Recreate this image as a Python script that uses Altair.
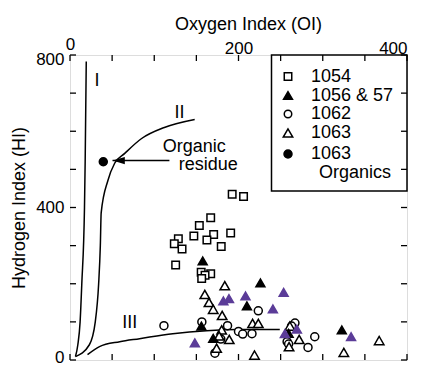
import altair as alt
import pandas as pd

FONT = "Liberation Sans"

# ---------------- data (OI, HI) ----------------
sq_oi = [192.5, 206, 167, 153.5, 147, 170.5, 162.5, 190.7, 128.6, 123.8, 133, 179.5, 125.4, 155.7, 167, 160.3, 156.3]
sq_hi = [435, 429, 373, 353, 325, 329, 315, 333, 318, 305, 291, 298, 249, 230, 226, 222, 214]

bt_oi = [157.5, 226, 210, 156, 170, 259.5, 322.6]
bt_hi = [260, 202, 142, 89, 57, 70, 79]

pt_oi = [253.6, 208.3, 188.7, 182, 240.8, 333.6, 269.3, 255, 148.2]
pt_hi = [177.6, 168, 161, 155, 134, 61, 81, 69, 45]

ot_oi = [183.7, 160, 165, 170, 180.6, 216.7, 223.5, 180, 189, 177, 174, 219, 261, 272, 260, 325, 367]
ot_hi = [195, 172, 151, 133, 117, 96, 96, 79, 54, 63, 31, 13, 89, 54, 35, 20, 51]

oc_oi = [111.5, 156.5, 187, 200, 205, 216, 223.5, 267, 290.5, 282.5, 257.7, 259.5, 172, 179, 263]
oc_hi = [90, 100, 90, 75, 68, 69, 129, 97, 61, 33, 48, 42, 18, 55, 89]

org_oi = [39.5]
org_hi = [520]

curve_I_oi = [6.5, 9.3, 12, 14, 17.2, 18, 19.3]
curve_I_hi = [9, 40, 100, 200, 400, 520, 783]
curve_II_oi = [6.5, 23, 30, 34, 36, 37, 45, 53, 65, 85, 112, 148]
curve_II_hi = [9, 40, 100, 200, 300, 386, 471, 516, 542, 581, 610, 631]
curve_III_oi = [20.8, 35, 59, 82.6, 122, 162, 201, 249]
curve_III_hi = [14, 35, 48, 56, 69, 77, 80, 80]

curve_labels = ["I", "II", "III"]
curve_label_oi = [32, 130, 71]
curve_label_hi = [731, 647, 98]

arrow_oi = [118, 50.5]
arrow_hi = [523, 523]
note_lines = ["Organic", "residue"]
note_oi = [110, 129]
note_hi = [559, 511]

legend_labels = ["1054", "1056 & 57", "1062", "1063", "1063"]
x_ticks = [0, 50, 100, 150, 200, 250, 300, 350, 400]
y_ticks = [0, 100, 200, 300, 400, 500, 600, 700, 800]

PURPLE = "#5b3c98"
W, H = 337, 305

# ---------------- scales / axes ----------------
xscale = alt.Scale(domain=[0, 400], nice=False, zero=False)
yscale = alt.Scale(domain=[0, 800], nice=False, zero=False)

xaxis = alt.Axis(
    orient="top", values=[0, 200, 400], title="Oxygen Index (OI)",
    labelFontSize=17, titleFontSize=18, labelFont=FONT, titleFont=FONT,
    titleFontWeight="normal", labelColor="black", titleColor="black",
    labelFlush=False,
    labelPadding={"condition": {"test": "datum.value == 0", "value": 2}, "value": -2},
    labelAlign={"condition": {"test": "datum.value == 400", "value": "right"}, "value": "center"},
    titlePadding=2, titleX=178, titleAlign="center",
    domain=False, ticks=False, grid=False,
)
yaxis = alt.Axis(
    values=[0, 400, 800], title="Hydrogen Index (HI)",
    labelFontSize=17, titleFontSize=18, labelFont=FONT, titleFont=FONT,
    titleFontWeight="normal", labelColor="black", titleColor="black",
    labelFlush=False, labelPadding=6,
    labelOffset={"condition": [{"test": "datum.value == 800", "value": 4},
                               {"test": "datum.value == 0", "value": -3}],
                 "value": 0},
    titlePadding=7, domain=False, ticks=False, grid=False,
)

def X(field="oi"):
    return alt.X(f"{field}:Q", scale=xscale, axis=xaxis)

def Y(field="hi"):
    return alt.Y(f"{field}:Q", scale=yscale, axis=yaxis)

# ---------------- curves ----------------
rows = []
for name, xs, ys in [("I", curve_I_oi, curve_I_hi), ("II", curve_II_oi, curve_II_hi),
                     ("III", curve_III_oi, curve_III_hi)]:
    for i, (a, b) in enumerate(zip(xs, ys)):
        rows.append({"curve": name, "i": i, "oi": a, "hi": b})
curves_df = pd.DataFrame(rows)

curves = alt.Chart(curves_df).mark_line(color="black", strokeWidth=1.5, interpolate="monotone").encode(
    x=X(), y=Y(), detail="curve:N", order="i:Q")

clabels = alt.Chart(pd.DataFrame({"t": curve_labels, "oi": curve_label_oi, "hi": curve_label_hi})).mark_text(
    font=FONT, fontSize=18, color="black").encode(x=X(), y=Y(), text="t:N")

arrow_line = alt.Chart(pd.DataFrame({"oi": arrow_oi, "hi": arrow_hi})).mark_line(
    color="black", strokeWidth=1.5).encode(x=X(), y=Y())
arrow_head = alt.Chart(pd.DataFrame({"oi": arrow_oi[1:], "hi": arrow_hi[1:]})).mark_point(
    shape="M0,0L2,-0.6L2,0.6Z", size=150, filled=True, color="black", opacity=1).encode(x=X(), y=Y())
note = alt.Chart(pd.DataFrame({"t": note_lines, "oi": note_oi, "hi": note_hi})).mark_text(
    font=FONT, fontSize=18, color="black", align="left", baseline="middle").encode(x=X(), y=Y(), text="t:N")

# ---------------- points ----------------
def pts(xs, ys, shape, size, fill, stroke):
    return alt.Chart(pd.DataFrame({"oi": xs, "hi": ys})).mark_point(
        shape=shape, size=size, filled=True, fill=fill, stroke=stroke, strokeWidth=1.5, opacity=1
    ).encode(x=X(), y=Y())

squares = pts(sq_oi, sq_hi, "square", 56, "white", "black")
circles = pts(oc_oi, oc_hi, "circle", 64, "white", "black")
otri = pts(ot_oi, ot_hi, "triangle-up", 90, "white", "black")
btri = pts(bt_oi, bt_hi, "triangle-up", 80, "black", "black")
ptri = pts(pt_oi, pt_hi, "triangle-up", 80, PURPLE, PURPLE)
organics = pts(org_oi, org_hi, "circle", 64, "black", "black")

# ---------------- legend (drawn by hand inside the frame) ----------------
leg_box = alt.Chart(pd.DataFrame({"a": [0]})).mark_rect(
    fill="white", stroke="black", strokeWidth=1.5).encode(
    x=alt.value(201.5), x2=alt.value(W), y=alt.value(0), y2=alt.value(136))

leg_y = [21.5, 40.5, 59, 78, 99]
leg_specs = [("square", "white", 56), ("triangle-up", "black", 80), ("circle", "white", 56),
             ("triangle-up", "white", 90), ("circle", "black", 64)]
leg_layers = [leg_box]
for (shape, fill, size), yy, lab in zip(leg_specs, leg_y, legend_labels):
    leg_layers.append(alt.Chart(pd.DataFrame({"a": [0]})).mark_point(
        shape=shape, size=size, filled=True, fill=fill, stroke="black", strokeWidth=1.5, opacity=1
    ).encode(x=alt.value(218), y=alt.value(yy)))
    leg_layers.append(alt.Chart(pd.DataFrame({"a": [0]})).mark_text(
        font=FONT, fontSize=18, color="black", align="left", baseline="middle", text=lab
    ).encode(x=alt.value(241), y=alt.value(yy)))
leg_layers.append(alt.Chart(pd.DataFrame({"a": [0]})).mark_text(
    font=FONT, fontSize=18, color="black", align="left", baseline="middle", text="Organics"
).encode(x=alt.value(249), y=alt.value(117.5)))

# ---------------- inward ticks ----------------
xt_df = pd.DataFrame({"oi": x_ticks})
yt_df = pd.DataFrame({"hi": y_ticks})
tick_top = alt.Chart(xt_df).mark_rule(color="black", strokeWidth=1.3).encode(
    x=X(), y=alt.value(0), y2=alt.value(6))
tick_bot = alt.Chart(xt_df).mark_rule(color="black", strokeWidth=1.3).encode(
    x=X(), y=alt.value(H), y2=alt.value(H - 6))
tick_left = alt.Chart(yt_df).mark_rule(color="black", strokeWidth=1.3).encode(
    y=Y(), x=alt.value(0), x2=alt.value(6))
tick_right = alt.Chart(yt_df).mark_rule(color="black", strokeWidth=1.3).encode(
    y=Y(), x=alt.value(W), x2=alt.value(W - 6))

chart = alt.layer(
    curves, clabels, arrow_line, arrow_head, note,
    squares, circles, otri, btri, ptri, organics,
    *leg_layers,
    tick_top, tick_bot, tick_left, tick_right,
).properties(
    width=W, height=H,
    padding={"left": 62, "top": 47, "right": 6, "bottom": 7},
    autosize=alt.AutoSizeParams(type="none"),
).configure_view(
    stroke="black", strokeWidth=1.5
).configure(background="white")

chart.save("out.html", embed_options={"renderer": "svg", "actions": False})
